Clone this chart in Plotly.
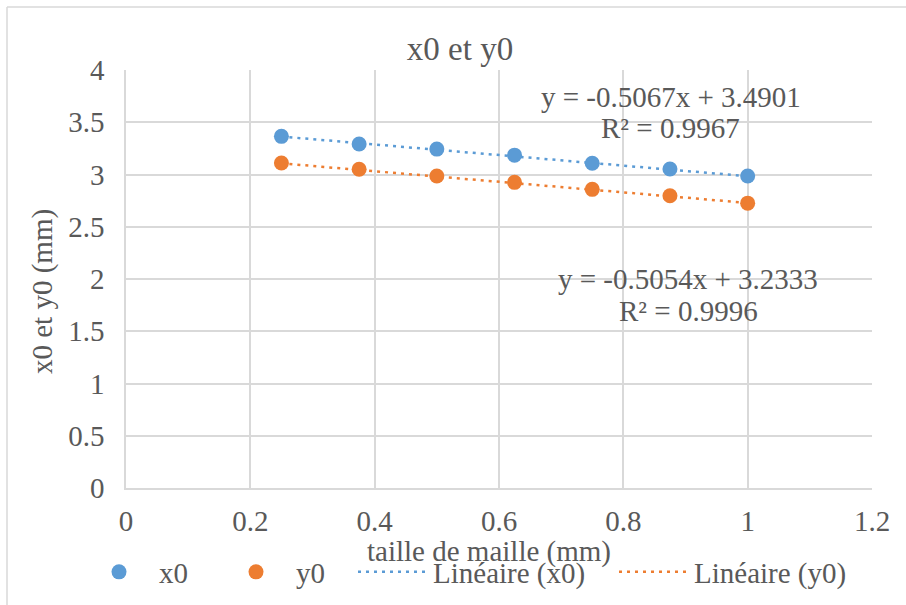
import plotly.graph_objects as go

# ---- Data ----
taille = [0.25, 0.375, 0.5, 0.625, 0.75, 0.875, 1.0]
x0_vals = [3.365, 3.292, 3.243, 3.185, 3.108, 3.052, 2.985]
y0_vals = [3.110, 3.050, 2.985, 2.925, 2.858, 2.797, 2.726]
x0_slope, x0_intercept = -0.5067, 3.4901
y0_slope, y0_intercept = -0.5054, 3.2333
x_ticks = [0, 0.2, 0.4, 0.6, 0.8, 1, 1.2]
y_ticks = [0, 0.5, 1, 1.5, 2, 2.5, 3, 3.5, 4]
eq_x0 = ["y = -0.5067x + 3.4901", "R² = 0.9967"]
eq_y0 = ["y = -0.5054x + 3.2333", "R² = 0.9996"]

BLUE = "#5b9bd5"
ORANGE = "#ed7d31"
TXT = "#595959"
GRID = "#d9d9d9"
FONT = "Liberation Serif"

# plot area in pixels (for converting label positions)
L, R, T, B = 126, 872, 70, 488
W, H = 906, 605


def px_x(p):
    return (p - L) / (R - L)


def px_y(p):
    return (B - p) / (B - T)


fit_x0 = [x0_slope * t + x0_intercept for t in taille]
fit_y0 = [y0_slope * t + y0_intercept for t in taille]

fig = go.Figure()
fig.add_trace(go.Scatter(x=taille, y=fit_x0, mode="lines", name="Linéaire (x0)",
                         legend="legend2", legendrank=1,
                         line=dict(color=BLUE, width=2.5, dash="3px,5px")))
fig.add_trace(go.Scatter(x=taille, y=fit_y0, mode="lines", name="Linéaire (y0)",
                         legend="legend2", legendrank=2,
                         line=dict(color=ORANGE, width=2.5, dash="3px,5px")))
fig.add_trace(go.Scatter(x=taille, y=x0_vals, mode="markers", name="x0",
                         legend="legend", legendrank=1,
                         marker=dict(color=BLUE, size=15)))
fig.add_trace(go.Scatter(x=taille, y=y0_vals, mode="markers", name="y0",
                         legend="legend", legendrank=2,
                         marker=dict(color=ORANGE, size=15)))

ann_font = dict(family=FONT, size=29, color=TXT)
# trendline equation labels
for txt, xp, yp in [(eq_x0[0], 671, 97), (eq_x0[1], 670, 128),
                    (eq_y0[0], 688, 279), (eq_y0[1], 688, 311)]:
    fig.add_annotation(x=px_x(xp), y=px_y(yp), xref="paper", yref="paper",
                       showarrow=False, text=txt, font=ann_font,
                       xanchor="center", yanchor="middle")

# axis titles
fig.add_annotation(x=px_x(489), y=px_y(551), xref="paper", yref="paper",
                   showarrow=False, text="taille de maille (mm)", font=ann_font,
                   xanchor="center", yanchor="middle")
fig.add_annotation(x=px_x(42), y=px_y(292), xref="paper", yref="paper",
                   showarrow=False, text="x0 et y0 (mm)", textangle=-90,
                   font=dict(family=FONT, size=29, color=TXT),
                   xanchor="center", yanchor="middle")

# outer chart border (top and left edges visible)
fig.add_shape(type="line", xref="paper", yref="paper",
              x0=px_x(7), x1=px_x(W + 10), y0=px_y(7), y1=px_y(7),
              line=dict(color=GRID, width=1.5))
fig.add_shape(type="line", xref="paper", yref="paper",
              x0=px_x(7), x1=px_x(7), y0=px_y(7), y1=px_y(H + 10),
              line=dict(color=GRID, width=1.5))

legend_common = dict(orientation="h", xanchor="left", y=px_y(572), yanchor="middle",
                     font=dict(family=FONT, size=29, color=TXT),
                     traceorder="normal", itemwidth=70, bgcolor="rgba(0,0,0,0)",
                     entrywidthmode="pixels")

fig.update_layout(
    width=W, height=H,
    margin=dict(l=L, r=W - R, t=T, b=H - B, autoexpand=False),
    paper_bgcolor="white", plot_bgcolor="white",
    font=dict(family=FONT, size=29, color=TXT),
    title=dict(text="x0 et y0", xref="container", yref="container",
               x=460 / W, xanchor="center", y=1 - 48 / H, yanchor="middle",
               font=dict(family=FONT, size=33, color=TXT)),
    legend=dict(x=px_x(79), entrywidth=52, **legend_common),
    legend2=dict(x=px_x(353), entrywidth=176, **legend_common),
    showlegend=True,
)
fig.update_xaxes(range=[0, 1.2], tickvals=x_ticks, ticktext=[str(v) for v in x_ticks],
                 showgrid=True, gridcolor=GRID, gridwidth=1.5,
                 showline=True, linecolor=GRID, linewidth=1.5,
                 zeroline=False, ticks="", ticklabelstandoff=6,
                 tickfont=dict(family=FONT, size=29, color=TXT))
fig.update_yaxes(range=[0, 4], tickvals=y_ticks, ticktext=[str(v) for v in y_ticks],
                 showgrid=True, gridcolor=GRID, gridwidth=1.5,
                 showline=True, linecolor=GRID, linewidth=1.5,
                 zeroline=False, ticks="", ticklabelstandoff=14,
                 tickfont=dict(family=FONT, size=29, color=TXT))

fig.write_html("out.html", post_script="document.body.style.margin='0';",
               config={"displayModeBar": False})
